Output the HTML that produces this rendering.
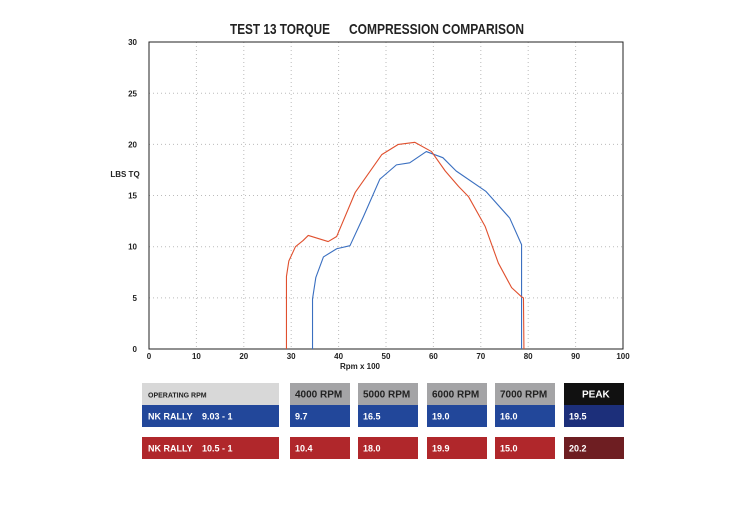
<!DOCTYPE html>
<html><head><meta charset="utf-8"><style>
body{margin:0;background:#fff;width:750px;height:530px;overflow:hidden;font-family:"Liberation Sans",sans-serif}
svg{display:block}
</style></head><body>
<svg width="750" height="530">
<text x="230" y="34" font-size="15" font-weight="bold" fill="#222" textLength="100" lengthAdjust="spacingAndGlyphs">TEST 13 TORQUE</text>
<text x="349" y="34" font-size="15" font-weight="bold" fill="#222" textLength="175" lengthAdjust="spacingAndGlyphs">COMPRESSION COMPARISON</text>
<g id="grid"></g>
<rect x="149" y="42" width="474" height="307" fill="none" stroke="#222" stroke-width="1"/>
<g id="axes"></g>
<text x="125" y="177" text-anchor="middle" font-size="8" font-weight="bold" fill="#222">LBS TQ</text>
<text x="360" y="369" text-anchor="middle" font-size="8" font-weight="bold" fill="#222">Rpm x 100</text>
<g id="lines"></g>
<g id="table" font-size="10" font-weight="bold"></g>
</svg>
<script>
const xTicks=[0,10,20,30,40,50,60,70,80,90,100];
const yTicks=[0,5,10,15,20,25,30];
const blueX=[34.5,34.5,35.2,36.8,39.6,42.4,45.2,48.7,52.2,55.0,58.5,62.0,64.8,71.1,76.1,78.5,78.6,78.6];
const blueY=[0,4.9,7.0,9.0,9.8,10.1,12.9,16.6,18.0,18.2,19.3,18.7,17.4,15.4,12.8,10.3,10.2,0];
const redX=[29.0,29.0,29.5,30.9,32.5,33.6,37.8,39.6,43.5,49.1,52.6,56.1,59.6,62.5,65.3,67.4,70.9,73.7,76.5,78.6,79.0,79.1];
const redY=[0,7.1,8.6,10.0,10.6,11.1,10.5,11.0,15.3,19.0,20.0,20.2,19.3,17.4,15.9,14.9,12.0,8.4,6.0,5.1,5.0,0];
const rowHeaders=["4000 RPM","5000 RPM","6000 RPM","7000 RPM","PEAK"];
const blueVals=["9.7","16.5","19.0","16.0","19.5"];
const redVals=["10.4","18.0","19.9","15.0","20.2"];
const NS="http://www.w3.org/2000/svg";
const X=v=>149+v*4.74, Y=v=>349-v*10.23;
function mk(tag,attrs,parent,txt){const e=document.createElementNS(NS,tag);for(const k in attrs)e.setAttribute(k,attrs[k]);if(txt!==undefined)e.textContent=txt;document.getElementById(parent).appendChild(e);return e;}
xTicks.forEach(t=>{
 if(t>0&&t<100){const l=mk('line',{x1:X(t),x2:X(t),y1:42,y2:349,stroke:'#bbb','stroke-dasharray':'1 3'},'grid');
 }
 const tx=mk('text',{x:X(t),y:359,'text-anchor':'middle','font-size':'8','font-weight':'bold',fill:'#222'},'axes',t);
 
});
yTicks.forEach(t=>{
 if(t>0&&t<30){const l=mk('line',{x1:149,x2:623,y1:Y(t),y2:Y(t),stroke:'#bbb','stroke-dasharray':'1 3'},'grid');
 }
 const tx=mk('text',{x:137,y:Y(t)+3,'text-anchor':'end','font-size':'8','font-weight':'bold',fill:'#222'},'axes',t);
 
});
function line(xs,ys,c,name){const p=mk('polyline',{points:xs.map((x,i)=>X(x)+','+Y(ys[i])).join(' '),fill:'none',stroke:c,'stroke-width':'1.1','stroke-linejoin':'round'},'lines');
 }
line(blueX,blueY,'#3a6fc0','series-9-03-to-1');
line(redX,redY,'#e0502e','series-10-5-to-1');
function cell(x,y,w,h,fill,text,tc,name,tx,fs){const r=mk('rect',{x,y,width:w,height:h,fill},'table');
 
 const t=mk('text',{x:x+(tx||5),y:y+h/2+3.5,fill:tc,'font-size':fs||9},'table',text);
 return t;}
cell(142,383,137,22,'#d8d8d8','OPERATING RPM','#222','operating-rpm-header',6,7);
cell(142,405,137,22,'#22479a','NK RALLY','#fff','blue-row-label',6);
mk('text',{x:202,y:419.5,fill:'#fff','font-size':9},'table','9.03 - 1');
cell(142,437,137,22,'#b0272b','NK RALLY','#fff','red-row-label',6);
mk('text',{x:202,y:451.5,fill:'#fff','font-size':9},'table','10.5 - 1');
const colX=[290,358,427,495,564];
rowHeaders.forEach((h,i)=>{
 const last=i===4;
 cell(colX[i],383,60,22,last?'#111':'#a4a4a6',h,last?'#fff':'#222','column-header',last?18:5,10);
 cell(colX[i],405,60,22,last?'#1c2f7a':'#22479a',blueVals[i],'#fff','blue-value-cell',5);
 cell(colX[i],437,60,22,last?'#6e1e22':'#b0272b',redVals[i],'#fff','red-value-cell',5);
});
</script>
</body></html>
